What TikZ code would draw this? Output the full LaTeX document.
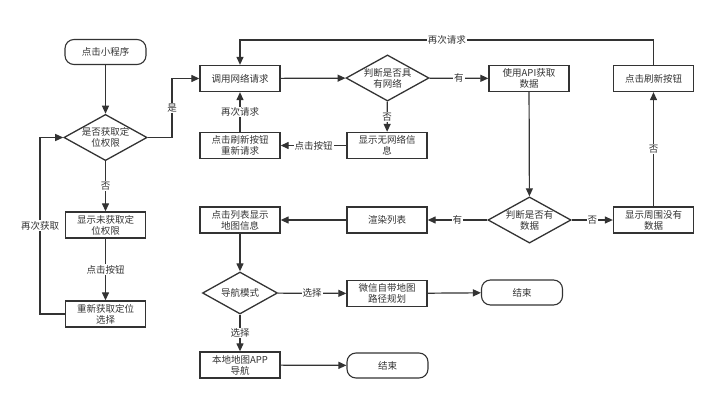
\documentclass[tikz,border=0pt]{standalone}
\usepackage{fontspec}
\newfontfamily\cjk{Noto Sans CJK SC}
\usetikzlibrary{arrows.meta,shapes.geometric}
\definecolor{ln}{HTML}{333333}
\begin{document}
\begin{tikzpicture}[x=1pt,y=-1pt,
  every node/.style={font=\cjk\fontsize{9.5}{11}\selectfont,text=ln},
  box/.style={draw=ln,line width=1.3pt,minimum width=80pt,minimum height=26pt,inner sep=1pt,align=center},
  term/.style={draw=ln,line width=1.1pt,rounded corners=9pt,minimum width=81pt,minimum height=25pt,inner sep=1pt},
  dia/.style={draw=ln,line width=1.3pt,diamond,aspect=1.8,minimum width=75pt,minimum height=42pt,inner sep=0pt,align=center},
  arr/.style={draw=ln,line width=1.2pt,-{Triangle[length=8pt,width=7pt]}},
  lnk/.style={draw=ln,line width=1.2pt},
  lab/.style={fill=white,inner sep=1pt}]
\useasboundingbox (0,0) rectangle (720,404);
% nodes
\node[term] (start) at (105.5,52) {点击小程序};
\node[dia] (d1) at (105.5,137.5) {是否获取定\\位权限};
\node[box] (nop) at (105.5,225) {显示未获取定\\位权限};
\node[box] (reget) at (105.5,314) {重新获取定位\\选择};
\node[box] (call) at (240,78.5) {调用网络请求};
\node[box] (ref1) at (240,145.5) {点击刷新按钮\\重新请求};
\node[dia] (d2) at (387.5,78) {判断是否具\\有网络};
\node[box] (nonet) at (387,145.5) {显示无网络信\\息};
\node[box] (api) at (529,78.5) {使用API获取\\数据};
\node[box] (ref2) at (653.5,78.5) {点击刷新按钮};
\node[dia,minimum height=44pt] (d3) at (529.5,220) {判断是否有\\数据};
\node[box] (nodata) at (653.5,220) {显示周围没有\\数据};
\node[box] (render) at (387,220) {渲染列表};
\node[box] (list) at (240,220) {点击列表显示\\地图信息};
\node[dia] (d4) at (240,293) {导航模式};
\node[box] (wx) at (387,293.5) {微信自带地图\\路径规划};
\node[term] (end1) at (522,292.5) {结束};
\node[box] (local) at (240,365) {本地地图APP\\导航};
\node[term] (end2) at (387.5,365.5) {结束};
\coordinate (c1) at (172,137.5);
\coordinate (c2) at (40,314);
\coordinate (c3) at (40,137.5);
\coordinate (c4) at (653.5,40);
\coordinate (c5) at (240,40);
% edges
\draw[arr] (start) -- (d1);
\draw[arr] (d1.east) -- (c1) |- node[lab,pos=0.25]{是} (call.west);
\draw[arr] (d1) -- node[lab]{否} (nop);
\draw[arr] (nop) -- node[lab]{点击按钮} (reget);
\draw[arr] (reget.west) -- (c2) -- node[lab]{再次获取} (c3) -- (d1.west);
\draw[arr] (call) -- (d2);
\draw[arr] (d2) -- node[lab]{有} (api);
\draw[arr] (d2) -- node[lab]{否} (nonet);
\draw[arr] (nonet) -- node[lab]{点击按钮} (ref1);
\draw[arr] (ref1) -- node[lab]{再次请求} (call);
\draw[arr] (api) -- (d3);
\draw[arr] (d3) -- node[lab]{有} (render);
\draw[arr] (d3) -- node[lab]{否} (nodata);
\draw[arr] (nodata) -- node[lab]{否} (ref2);
\draw[arr] (ref2.north) -- (c4) -- node[lab,pos=0.5]{再次请求} (c5) -- (call.north);
\draw[arr] (render) -- (list);
\draw[arr] (list) -- (d4);
\draw[arr] (d4) -- node[lab]{选择} (wx);
\draw[arr] (d4) -- node[lab]{选择} (local);
\draw[arr] (wx) -- (end1);
\draw[arr] (local) -- (end2);
\end{tikzpicture}
\end{document}
